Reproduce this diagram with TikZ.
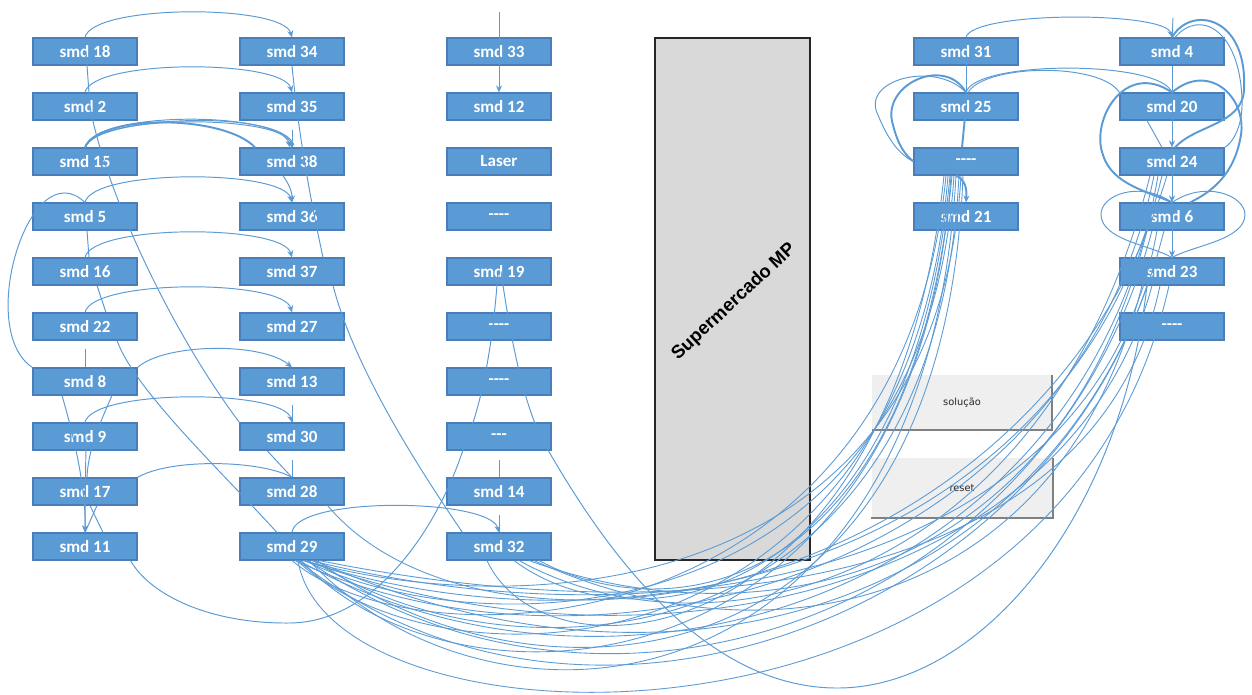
\documentclass[tikz,border=0pt]{standalone}
\usepackage{fontspec}
\setmainfont{Carlito}
\newfontfamily\labelsans{Liberation Sans}
\newfontfamily\btnsans{DejaVu Sans}
\usetikzlibrary{arrows.meta,calc}
\definecolor{boxblue}{HTML}{5B9BD5}
\definecolor{boxedge}{HTML}{4A7EBB}
\definecolor{linkblue}{HTML}{5B9BD5}
\definecolor{marketgray}{HTML}{D9D9D9}
\definecolor{btnfill}{HTML}{EFEFEF}
\definecolor{btnshade}{HTML}{808080}
\newcommand\dashfour{{-}{-}{-}{-}}
\newcommand\dashthree{{-}{-}{-}}
\begin{document}
\begin{tikzpicture}[x=0.02cm, y=-0.02cm,
  station/.style={draw=boxedge, line width=0.6pt, fill=boxblue, minimum width=2.08cm,
    minimum height=0.54cm, inner sep=0pt, text=white,
    font=\bfseries\fontsize{9.7}{11}\selectfont},
  market/.style={draw=black!85, line width=0.8pt, fill=marketgray, minimum width=3.1cm,
    minimum height=10.44cm, inner sep=0pt},
  button/.style={fill=btnfill, inner sep=0pt, text=black!85,
    font=\btnsans\fontsize{5.6}{7}\selectfont},
  link/.style={draw=linkblue, line width=0.55pt},
  bold link/.style={link, line width=1.1pt},
  fan/.style={link, line width=0.5pt},
  arr/.style={-{Stealth[length=4pt,width=3.4pt]}}]

\useasboundingbox (0,0) rectangle (1252,695);
\fill[white] (0,0) rectangle (1252,695);

% ---------- supermarket and buttons ----------
\node[market] (mp) at (732.5,299) {};
\node[rotate=43, font=\labelsans\bfseries\fontsize{10.5}{12}\selectfont] (mplabel) at (734,302) {Supermercado MP};

\node[button, minimum width=3.6cm, minimum height=1.1cm] (sol) at (962,402.5) {solução};
\draw[btnshade, line width=1.2pt] (sol.north east) -- (sol.south east) -- (sol.south west);
\node[button, minimum width=3.62cm, minimum height=1.2cm] (rst) at (962,488) {reset};
\draw[btnshade, line width=1.2pt] (rst.north east) -- (rst.south east) -- (rst.south west);

% ---------- stations ----------
\foreach \n/\t [count=\i] in {a18/smd 18, a2/smd 2, a15/smd 15, a5/smd 5, a16/smd 16,
    a22/smd 22, a8/smd 8, a9/smd 9, a17/smd 17, a11/smd 11}
  \node[station] (\n) at (85,{51.5+55*(\i-1)}) {\t};
\foreach \n/\t [count=\i] in {b34/smd 34, b35/smd 35, b38/smd 38, b36/smd 36, b37/smd 37,
    b27/smd 27, b13/smd 13, b30/smd 30, b28/smd 28, b29/smd 29}
  \node[station] (\n) at (292,{51.5+55*(\i-1)}) {\t};
\foreach \n/\t [count=\i] in {c33/smd 33, c12/smd 12, claser/Laser, cd4/\dashfour, c19/smd 19,
    cd6/\dashfour, cd7/\dashfour, cd8/\dashthree, c14/smd 14, c32/smd 32}
  \node[station] (\n) at (499,{51.5+55*(\i-1)}) {\t};
\foreach \n/\t [count=\i] in {d31/smd 31, d25/smd 25, dd3/\dashfour, d21/smd 21}
  \node[station] (\n) at (966,{51.5+55*(\i-1)}) {\t};
\foreach \n/\t [count=\i] in {e4/smd 4, e20/smd 20, e24/smd 24, e6/smd 6, e23/smd 23, ed6/\dashfour}
  \node[station] (\n) at (1172,{51.5+55*(\i-1)}) {\t};

% free ends of the short feeder stubs
\coordinate (st8) at (85,349);
\coordinate (st30) at (292,405);
\coordinate (st28) at (292,460);
\coordinate (st38) at (292,130);
\coordinate (st14) at (499,460);
\coordinate (st32) at (499,515);
\coordinate (feed33) at (499,12);
\coordinate (feed4) at (1173,18);

% ---------- left block: arcs between the first two columns ----------
\draw[link,arr] (a18.north) .. controls (92,4) and (283,4) .. (b34.north);
\draw[link,arr] (a2.north) .. controls (92,59) and (283,59) .. (b35.north);
\draw[link,arr] (a15.north) .. controls (92,114) and (283,114) .. (b38.north);
\draw[link,arr] (a15.north) .. controls (94,110) and (281,111) .. ($(b38.north)+(-2,0)$);
\draw[link] (a15.north) .. controls (95,116) and (283,108) .. ($(b38.north)+(2,-2)$);
\draw[bold link] (a15.north) .. controls (100,113) and (225,115) .. ($(b38.north)+(-37,0)$);
\draw[link,arr] ($(b38.south)+(-9,0)$) .. controls (289,185) and (292,190) .. (b36.north);
\draw[link,arr] (a5.north) .. controls (92,169) and (283,169) .. (b36.north);
\draw[link,arr] (a16.north) .. controls (92,224) and (283,224) .. (b37.north);
\draw[link,arr] (a22.north) .. controls (92,279) and (283,279) .. (b27.north);
\draw[link,arr] (a8.north east) .. controls (165,343) and (262,342) .. (b13.north);
\draw[link,arr] (a9.north) .. controls (92,389) and (283,389) .. (b30.north);
\draw[link] (a17.north east) .. controls (170,458) and (262,460) .. (b28.north);
\draw[link,arr] (b29.north) .. controls (296,496) and (490,498) .. (c32.north);

\draw[link] (st8) -- (a8.north);
\draw[link] (st30) -- (b30.north);
\draw[link] (st28) -- (b28.north);
\draw[link] (st38) -- (b38.north);
\draw[link] (st14) -- (c14.north);
\draw[link] (st32) -- (c32.north);

% ---------- left block: lines running down the columns ----------
\draw[link] ($(a18.center)+(1,0)$) -- ($(a2.center)+(5,0)$);
\draw[link] ($(a2.center)+(5,0)$) .. controls (105,190) and (170,330) .. (b30.north west);
\draw[link] ($(a5.south)+(2,0)$) -- ($(a16.north)+(4,0)$);
\draw[link] ($(a16.south)+(12,0)$) -- ($(a22.north)+(21,0)$);
\draw[link] ($(a22.south)+(32,0)$) .. controls (135,390) and (220,470) .. ($(b29.north)+(-15,0)$);
\draw[link] (a5.north) .. controls (30,150) and (-25,330) .. (a8.north west);
\draw[link,arr] ($(a8.south)+(-23,0)$) .. controls (75,440) and (86,490) .. (a11.north);
\draw[link] ($(a8.south)+(27,0)$) .. controls (100,423) and (88,450) .. ($(a17.north)+(2,0)$);
\draw[link,arr] ($(a9.center)+(1,0)$) -- (a11.north);
\draw[link] ($(a17.south)+(12,0)$) -- (a11.north);
\draw[link] ($(a17.south)+(5,0)$) -- ($(a11.north)+(18,0)$);
\draw[link] ($(b30.south)+(-25,0)$) -- (b28.north);
\draw[link] (b34.south) .. controls (300,150) and (315,220) .. ($(b37.north)+(31,0)$);
\draw[link] ($(b37.south)+(41,0)$) .. controls (355,370) and (420,470) .. ($(c32.north west)+(16,0)$);

% ---------- middle column ----------
\draw[link,arr] (feed33) -- (c12.north);
\draw[link] ($(c19.center)+(-1,0)$) .. controls (492,360) and (478,415) .. (463,450)
  .. controls (440,520) and (380,622) .. (290,623)
  .. controls (210,624) and (150,595) .. ($(a11.south east)+(-7,0)$);
\draw[link] ($(c19.center)+(2,0)$) .. controls (515,370) and (530,420) .. (548,450)
  .. controls (600,540) and (700,690) .. (840,688)
  .. controls (980,686) and (1120,520) .. ($(e23.south)+(-25,0)$);

% ---------- right block ----------
\draw[link,arr] (d31.north) .. controls (972,11) and (1166,11) .. (e4.north);
\draw[link] (feed4) -- (e4.north);
\draw[link] (d31.center) -- (d25.center);
\draw[bold link] (d25.center) -- ($(dd3.north)+(-4,0)$);
\draw[link] (d25.north) .. controls (975,60) and (1160,60) .. (e20.north);
\draw[link] ($(d25.north)+(2,0)$) .. controls (985,64) and (1100,62) .. (e20.north west);
\draw[bold link] (d25.north) .. controls (945,55) and (880,85) .. (893,125)
  .. controls (898,145) and (905,155) .. (dd3.west);
\draw[link] (d25.north) .. controls (935,60) and (860,80) .. (878,115)
  .. controls (888,140) and (900,155) .. (dd3.west);
\draw[bold link,arr] ($(dd3.south)+(-10,0)$) .. controls (965,180) and (967,188) .. (d21.north);

\draw[link] (e4.south) -- (e20.south);
\draw[link,arr] (e20.south) -- (e24.north);
\draw[link] (e24.north) -- (e24.south);
\draw[link,arr] (e24.south) -- (e6.north);
\draw[link] (e6.north) -- (e6.south);
\draw[link,arr] (e6.south) -- (e23.north);
\draw[link] ($(e20.south)+(-25,0)$) -- ($(e24.north)+(-10,0)$);
\draw[bold link] (e20.north) .. controls (1125,60) and (1090,120) .. (1103,155)
  .. controls (1112,185) and (1150,192) .. (e6.north);
\draw[bold link] (e20.north) .. controls (1210,60) and (1250,100) .. (1240,140)
  .. controls (1232,180) and (1205,195) .. ($(e6.north)+(18,0)$);
\draw[link] (e6.north) .. controls (1140,180) and (1100,195) .. (1101,215)
  .. controls (1102,240) and (1150,245) .. (e23.north);
\draw[link] (e6.north) .. controls (1205,180) and (1245,195) .. (1245,215)
  .. controls (1244,240) and (1195,245) .. (e23.north);
\draw[bold link] (e4.north) .. controls (1190,5) and (1248,15) .. (1244,90)
  .. controls (1242,125) and (1195,125) .. ($(e24.north)+(3,0)$);
\draw[link] ($(e4.north)+(3,0)$) .. controls (1200,8) and (1240,30) .. (1242,100)
  .. controls (1243,130) and (1230,145) .. (e24.north east);

% ---------- long links from the lower stations to the right block ----------
\foreach \sx/\ax/\ay/\tx/\bx/\by in {
    0/130/110/-20/-45/470, 5/150/140/-18/-40/500, 9/160/170/-15/-35/520,
    13/180/90/-12/-30/460, 17/190/200/-10/-30/540, 21/200/130/-7/-25/490,
    12/210/60/-5/-25/430, 25/220/160/-3/-20/520}
  \draw[fan] ($(b29.south)+(\sx,0)$) .. controls +(\ax,\ay) and +(\bx,\by) .. ($(dd3.south)+(\tx,0)$);

\foreach \sx/\ax/\ay/\tg/\tx/\bx/\by in {
    3/300/140/e24/-18/-80/400, 7/320/180/e24/-14/-70/420, 11/340/110/e24/-10/-90/380,
    15/310/210/e6/-20/-100/380, 19/360/90/e6/-15/-60/340, 23/380/170/e6/-8/-90/360,
    6/290/230/e23/-25/-110/330, 14/350/130/e23/-20/-80/300, 27/400/80/e23/-12/-60/290}
  \draw[fan] ($(b29.south)+(\sx,0)$) .. controls +(\ax,\ay) and +(\bx,\by) .. ($(\tg.south)+(\tx,0)$);

\foreach \sx/\ax/\ay/\tg/\tx/\bx/\by in {
    -12/60/130/dd3/-22/-50/480, 15/120/90/dd3/-16/-40/430, 40/130/70/dd3/-14/-40/420,
    20/200/110/e24/-22/-100/400, 30/220/80/e6/-25/-90/360, 35/240/110/e23/-30/-80/320}
  \draw[fan] ($(c32.south)+(\sx,0)$) .. controls +(\ax,\ay) and +(\bx,\by) .. ($(\tg.south)+(\tx,0)$);

\draw[fan] ($(b28.south east)+(-17,0)$) .. controls +(160,190) and +(-130,430) .. ($(e24.south)+(-5,0)$);
\draw[fan] ($(b29.south)+(6,0)$) .. controls (330,760) and (1060,780) .. ($(e23.south)+(-3,0)$);
\end{tikzpicture}
\end{document}
